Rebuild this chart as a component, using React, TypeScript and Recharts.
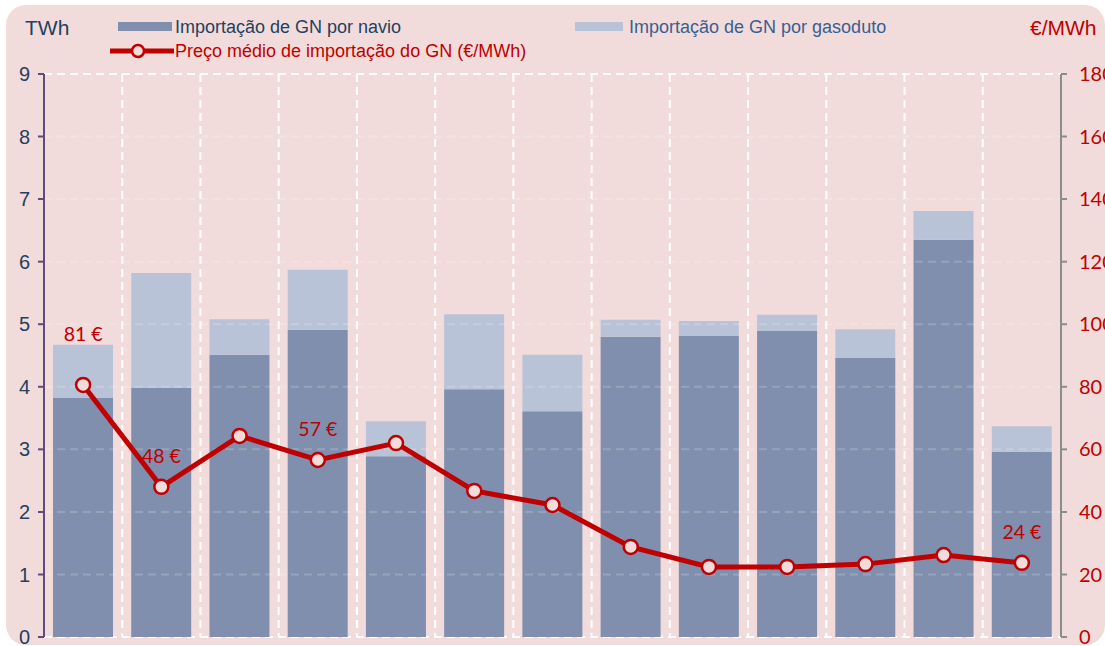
import React from "react";
import { Bar, CartesianGrid, ComposedChart, LabelList, Line, ReferenceLine, XAxis, YAxis } from "recharts";

const periods = ["1", "2", "3", "4", "5", "6", "7", "8", "9", "10", "11", "12", "13"];
const navio = [3.82, 3.98, 4.51, 4.91, 2.89, 3.96, 3.61, 4.8, 4.81, 4.89, 4.46, 6.35, 2.96];
const gasoduto = [0.85, 1.84, 0.57, 0.96, 0.56, 1.2, 0.9, 0.27, 0.24, 0.26, 0.46, 0.46, 0.41];
const preco = [80.6, 48, 64.3, 56.6, 62, 46.7, 42.2, 28.8, 22.4, 22.4, 23.3, 26.2, 23.7];
const precoLabels = ["81 €", "48 €", "", "57 €", "", "", "", "", "", "", "", "", "24 €"];
const leftTicks = [0, 1, 2, 3, 4, 5, 6, 7, 8, 9];
const rightTicks = [0, 20, 40, 60, 80, 100, 120, 140, 160, 180];

const data = periods.map((p, i) => ({
  periodo: p,
  navio: navio[i],
  gasoduto: gasoduto[i],
  preco: preco[i],
  label: precoLabels[i],
}));

const RED = "#c00000";
const PANEL = "#f2dcdb";
const NAVY = "#243f60";

// first label sits higher so it clears the top of the bar
const labelLift = (index: number) => (index === 0 ? 44 : 24);

const PriceLabel = (props: any) => {
  const { x, y, value, index } = props;
  if (!value) return null;
  return (
    <text x={x} y={y - labelLift(index)} textAnchor="middle" fill={RED} fontSize={19.5} fontFamily="Lato, 'Open Sans', sans-serif">
      {value}
    </text>
  );
};

const gridX = ({ offset }: any) =>
  periods.map((_, i) => offset.left + (offset.width * i) / periods.length).slice(1);

export default function App() {
  return (
    <div
      style={{
        position: "absolute",
        left: 6,
        top: 5,
        width: 1099,
        height: 640,
        borderRadius: 20,
        background: PANEL,
        overflow: "hidden",
        fontFamily: "'Liberation Sans', Arial, sans-serif",
      }}
    >
      <div style={{ position: "absolute", left: 19, top: 11, fontSize: 21, lineHeight: "24px", color: NAVY }}>TWh</div>
      <div style={{ position: "absolute", left: 112, top: 17, width: 54, height: 9, background: "#7f8fad" }} />
      <div style={{ position: "absolute", left: 169, top: 12, fontSize: 18, lineHeight: "20px", color: NAVY }}>
        Importação de GN por navio
      </div>
      <div style={{ position: "absolute", left: 569, top: 17, width: 48, height: 9, background: "#b9c3d7" }} />
      <div style={{ position: "absolute", left: 623, top: 12, fontSize: 18, lineHeight: "20px", color: "#376092" }}>
        Importação de GN por gasoduto
      </div>
      <svg style={{ position: "absolute", left: 104, top: 37 }} width={64} height={18}>
        <line x1={0} y1={9} x2={64} y2={9} stroke={RED} strokeWidth={5} />
        <circle cx={28} cy={9} r={6} fill={PANEL} stroke={RED} strokeWidth={2.5} />
      </svg>
      <div style={{ position: "absolute", left: 169, top: 36, fontSize: 18, lineHeight: "20px", color: RED }}>
        Preço médio de importação do GN (€/MWh)
      </div>
      <div style={{ position: "absolute", left: 1024, top: 11, fontSize: 21, lineHeight: "24px", color: RED }}>€/MWh</div>

      <ComposedChart width={1099} height={640} data={data} margin={{ top: 69, right: 0, left: 0, bottom: 8 }} barSize={60}>
        <CartesianGrid
          stroke="#ffffff"
          strokeWidth={2}
          strokeDasharray="8 5"
          verticalCoordinatesGenerator={gridX}
        />
        <XAxis dataKey="periodo" hide />
        <YAxis
          yAxisId="left"
          domain={[0, 9]}
          ticks={leftTicks}
          interval={0}
          width={38}
          axisLine={{ stroke: "#604a7b", strokeWidth: 2 }}
          tickLine={{ stroke: "#604a7b", strokeWidth: 2 }}
          tickSize={6}
          tickMargin={8}
          tick={{ fill: NAVY, fontSize: 20, fontFamily: "'Liberation Sans', Arial, sans-serif" }}
        />
        <YAxis
          yAxisId="right"
          orientation="right"
          domain={[0, 180]}
          ticks={rightTicks}
          interval={0}
          width={44}
          axisLine={{ stroke: "#8c8c8c", strokeWidth: 2 }}
          tickLine={{ stroke: "#8c8c8c", strokeWidth: 2 }}
          tickSize={6}
          tickMargin={12}
          tick={{ fill: RED, fontSize: 20, fontFamily: "Lato, 'Open Sans', sans-serif" }}
        />
        <Bar yAxisId="left" dataKey="navio" stackId="gn" fill="#7f8fad" isAnimationActive={false} />
        <Bar yAxisId="left" dataKey="gasoduto" stackId="gn" fill="#b9c3d7" isAnimationActive={false} />
        {leftTicks.slice(1).map((t) => (
          <ReferenceLine
            key={t}
            yAxisId="left"
            y={t}
            stroke="#ffffff"
            strokeOpacity={0.18}
            strokeWidth={2}
            strokeDasharray="8 5"
          />
        ))}
        <Line
          yAxisId="right"
          dataKey="preco"
          stroke={RED}
          strokeWidth={5}
          dot={{ r: 7, fill: PANEL, stroke: RED, strokeWidth: 2.5 }}
          activeDot={false}
          isAnimationActive={false}
        >
          <LabelList dataKey="label" content={PriceLabel} />
        </Line>
      </ComposedChart>
    </div>
  );
}
